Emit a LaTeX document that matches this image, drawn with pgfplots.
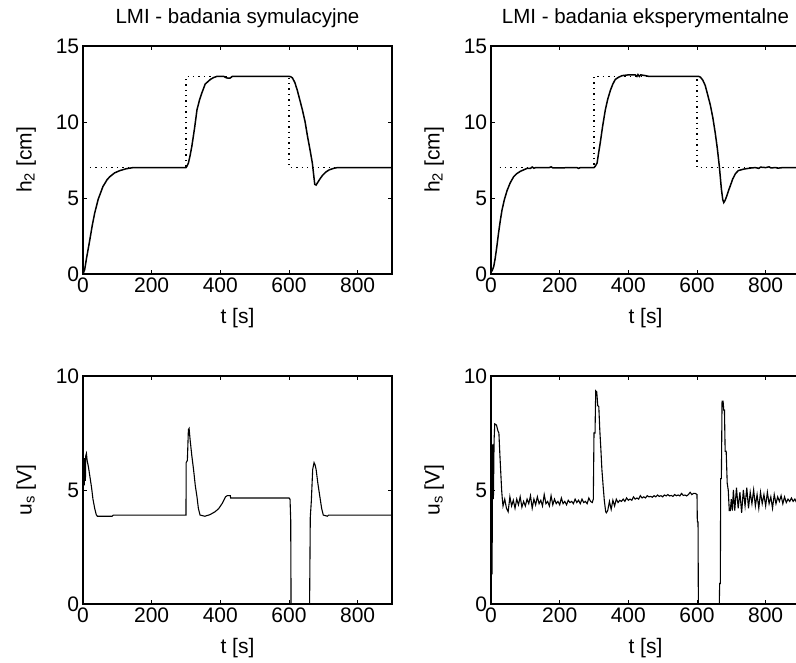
\documentclass[border=0pt]{standalone}
\usepackage{fontspec}
\setmainfont{Liberation Sans}
\usepackage{pgfplots}
\pgfplotsset{compat=1.18}
\pgfplotsset{
  mstyle/.style={
    scale only axis, width=309pt, height=228pt,
    xmin=0, xmax=900, xtick={0,200,400,600,800},
    tick align=inside, tick pos=both, major tick length=4pt,
    every axis/.append style={line width=1.1pt},
    tick style={line width=0.9pt, black},
    /pgf/number format/assume math mode=true,
    tick label style={font=\fontsize{21}{25}\selectfont},
    label style={font=\fontsize{21}{25}\selectfont},
    title style={font=\fontsize{20.5}{25}\selectfont, at={(axis description cs:0.5,1)}, anchor=base, yshift=16pt},
    xlabel={t [s]},
    xlabel style={at={(axis description cs:0.5,0)}, anchor=center, yshift=-44pt},
    ylabel style={at={(axis description cs:-0.184,0.5)}, anchor=center},
    clip=true,
    cycle list={{black, line width=1.5pt, no markers, sharp plot}},
  },
  sp/.style={black, line width=1.4pt, dash pattern={on 1.4pt off 4pt}},
}
\begin{document}
\begin{tikzpicture}
\useasboundingbox (0,0) rectangle (796pt,662pt);
\clip (0,0) rectangle (796pt,662pt);
% top left
\begin{axis}[mstyle, at={(83pt,388pt)}, anchor=south west, ymin=0, ymax=15, ytick={0,5,10,15},
  title={LMI - badania symulacyjne}, ylabel={h\textsubscript{2} [cm]}]
\addplot[sp] coordinates {(20,7) (300,7) (300,13) (600,13) (600,7) (900,7)};
\addplot coordinates {(0,0) (5,0.3) (10,1.0) (19.5,2.2) (27,3.2) (34,4.0) (44,4.9) (58,5.75) (70,6.2) (78,6.4) (92,6.65) (107,6.8) (125,6.92) (146,7.0) (300,7.0) (303,7.1) (307,7.3) (312,7.8) (317,8.4) (325,9.6) (332,10.8) (340,11.5) (346,11.9) (356,12.5) (371,12.8) (380,12.92) (390,13.0) (410,13.0) (418,12.9) (428,12.88) (435,13.0) (600,13.0) (605,12.98) (610,12.9) (617,12.6) (624,12.1) (631,11.5) (639,10.8) (647,10.0) (654,9.05) (661,8.2) (668,7.3) (672,6.5) (675,5.9) (679,5.85) (683,6.0) (690,6.25) (698,6.5) (707,6.7) (717,6.85) (730,6.95) (741,7.0) (900,7.0)};
\end{axis}
% top right
\begin{axis}[mstyle, at={(491pt,388pt)}, anchor=south west, ymin=0, ymax=15, ytick={0,5,10,15},
  title={LMI - badania eksperymentalne}, ylabel={h\textsubscript{2} [cm]}]
\addplot[sp] coordinates {(25,7) (300,7) (300,13) (600,13) (600,7) (900,7)};
\addplot coordinates {(0,0.2) (3,0.2) (8,0.5) (12,1.0) (17,1.8) (22,2.7) (27,3.5) (32,4.2) (39,4.9) (47,5.5) (56,6.0) (66,6.4) (75,6.6) (85,6.75) (95,6.85) (105,6.95) (115,6.95) (120,7.04) (125,6.96) (130,7.0) (170,7.0) (175,7.05) (180,6.98) (250,7.0) (255,6.95) (260,7.0) (300,7.0) (304,7.1) (309,7.3) (313,7.9) (318,8.6) (325,9.7) (333,10.8) (340,11.5) (348,12.1) (355,12.5) (362,12.8) (372,12.95) (382,13.05) (400,13.1) (420,13.1) (425,13.0) (428,13.12) (432,13.0) (436,13.1) (450,13.05) (460,13.0) (600,13.0) (605,13.0) (610,12.95) (617,12.75) (624,12.4) (631,11.8) (639,11.1) (646,10.3) (653,9.3) (659,8.3) (665,7.1) (671,5.6) (675,4.9) (678,4.7) (682,4.85) (687,5.15) (692,5.5) (697,5.8) (704,6.25) (712,6.6) (720,6.8) (736,6.9) (750,6.95) (760,6.98) (770,7.0) (780,6.95) (785,7.03) (800,7.0) (810,7.05) (815,6.98) (830,7.0) (835,6.96) (850,7.0) (900,7.0)};
\end{axis}
% bottom left
\begin{axis}[mstyle, at={(83pt,58pt)}, anchor=south west, ymin=0, ymax=10, ytick={0,5,10},
  ylabel={u\textsubscript{s} [V]}]
\addplot coordinates {(0,5.0) (2,6.3) (4,5.2) (5,6.4) (7,5.4) (8,6.5) (10,6.6) (12,6.3) (16,6.0) (20,5.6) (25,5.1) (29,4.6) (34,4.2) (39,3.9) (42,3.85) (85,3.85) (88,3.9) (300,3.9) (300.5,6.2) (304,6.3) (307,7.65) (309,7.7) (312,7.2) (317,6.5) (322,5.9) (327,5.2) (332,4.7) (336,4.2) (341,3.9) (355,3.85) (370,3.92) (385,4.05) (395,4.18) (405,4.4) (410,4.55) (415,4.7) (420,4.75) (429,4.75) (430,4.65) (600,4.65) (603,4.6) (605,3.7) (606,0) (660,0) (662,3.8) (665,4.5) (669,5.9) (673,6.2) (676,6.1) (679,5.9) (684,5.3) (690,4.7) (695,4.2) (700,3.9) (712,3.85) (715,3.9) (900,3.9)};
\end{axis}
% bottom right
\begin{axis}[mstyle, at={(491pt,58pt)}, anchor=south west, ymin=0, ymax=10, ytick={0,5,10},
  ylabel={u\textsubscript{s} [V]}]
\addplot coordinates {(0,1.3) (2,4.6) (3,1.3) (5,7.0) (7,4.6) (9,7.2) (11,7.9) (16,7.85) (20,7.6) (23,7.5) (26,6.5) (28,5.9) (31,5.0) (33,4.6)
(35,4.3) (40,4.6) (45,4.2) (50,4.05) (55,4.7) (60,4.3) (65,4.55) (70,4.2) (75,4.6) (80,4.35) (85,4.7) (90,4.25) (95,4.5) (100,4.3) (105,4.6) (110,4.4) (115,4.75) (120,4.2) (125,4.6) (130,4.35) (135,4.7) (140,4.4) (145,4.55) (150,4.3) (155,4.8) (160,4.4) (165,4.5) (170,4.3) (175,4.75) (180,4.35) (185,4.6) (190,4.4) (195,4.5) (200,4.35) (205,4.65) (210,4.4) (215,4.5) (220,4.35) (225,4.55) (230,4.45) (235,4.5) (240,4.4) (245,4.6) (250,4.45) (255,4.55) (260,4.4) (265,4.6) (270,4.45) (275,4.5) (280,4.4) (285,4.65) (290,4.5) (295,4.45) (298,4.6)
(300,7.5) (303,7.5) (305,9.35) (308,9.3) (311,8.7) (314,8.65) (317,7.6) (320,6.8) (323,5.9) (327,5.1) (330,4.55) (334,4.05) (336,4.0)
(340,4.1) (345,4.5) (350,4.15) (355,4.55) (360,4.3) (365,4.6) (370,4.45) (375,4.55) (380,4.5) (385,4.6) (390,4.5) (395,4.65) (400,4.55) (405,4.6) (410,4.55) (415,4.7) (420,4.6) (425,4.65) (430,4.6) (435,4.75) (440,4.65) (445,4.7) (450,4.65) (455,4.75) (460,4.7) (465,4.72) (470,4.68) (475,4.75) (480,4.7) (485,4.78) (490,4.72) (495,4.75) (500,4.7) (505,4.78) (510,4.74) (515,4.8) (520,4.74) (525,4.76) (530,4.72) (535,4.8) (540,4.75) (545,4.78) (550,4.74) (555,4.85) (560,4.76) (565,4.78) (570,4.74) (575,4.8) (580,4.9) (585,4.8) (590,4.85) (595,4.85) (600,4.8)
(601,3.6) (603,3.6) (604,0) (665,0) (666,0.9) (668,0.9) (669,5.5) (671,5.5) (673,8.9) (676,8.9) (678,8.5) (680,8.5) (682,6.7) (685,6.7) (688,5.3) (691,5.0) (694,4.1) (697,4.1)
(700,4.6) (703,4.1) (706,5.0) (710,4.1) (715,5.1) (720,4.2) (725,4.9) (730,4.0) (735,5.0) (740,4.3) (745,5.1) (750,4.2) (755,4.9) (760,4.4) (765,5.0) (770,4.3) (775,4.8) (780,4.2) (785,4.9) (790,4.4) (795,4.8) (800,4.3) (805,4.9) (810,4.4) (815,4.7) (820,4.2) (825,4.8) (830,4.4) (835,4.7) (840,4.5) (845,4.75) (850,4.4) (855,4.7) (860,4.45) (865,4.6) (870,4.5) (875,4.65) (880,4.5) (885,4.6) (890,4.45) (895,4.6) (900,4.5)};
\end{axis}
\end{tikzpicture}
\end{document}
